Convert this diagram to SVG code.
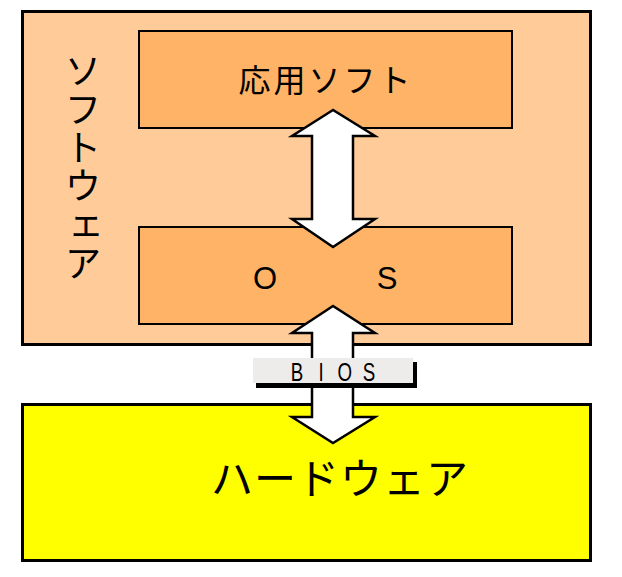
<svg xmlns="http://www.w3.org/2000/svg" width="622" height="577" viewBox="0 0 622 577">
<style>
.jp{font-family:"Noto Sans CJK JP","Noto Sans",sans-serif;fill:#000}
.lat{font-family:"Liberation Sans",Arial,sans-serif;fill:#000}
.inner{fill:#FFB366;stroke:#000;stroke-width:2}
.arrow{fill:#FFF;stroke:#000;stroke-width:2.5;stroke-linejoin:miter}
</style>
<rect width="622" height="577" fill="#FFF"/>
<g id="software">
<rect x="22.5" y="11.5" width="568" height="333" fill="#FFCC99" stroke="#000" stroke-width="3"/>
<text class="jp" font-size="36" text-anchor="middle" x="83 83 83 83 86 83" y="84 123 161 199 236 277">ソフトウェア</text>
</g>
<g id="app">
<rect class="inner" x="139" y="31" width="373" height="97"/>
<text class="jp" font-size="32" text-anchor="middle" letter-spacing="3" x="326" y="92">応用ソフト</text>
</g>
<g id="os">
<rect class="inner" x="139" y="227" width="373" height="97"/>
<text class="lat" font-size="31"><tspan x="265" y="289" text-anchor="middle">O</tspan><tspan x="387" y="289" text-anchor="middle">S</tspan></text>
</g>
<g id="hardware">
<rect x="22.5" y="404.5" width="568" height="156" fill="#FFFF00" stroke="#000" stroke-width="3"/>
<text class="jp" font-size="42" text-anchor="middle" letter-spacing="1" x="340" y="494">ハードウェア</text>
</g>
<g id="connectors">
<polygon class="arrow" points="333,110 292,136 312,136 312,219 292,219 333,247 375,219 353,219 353,136 375,136"/>
<polygon class="arrow" points="333,306 292,333 312,333 312,417 292,417 333,443 375,417 353,417 353,333 375,333"/>
</g>
<g id="bios">
<rect x="256" y="362" width="161" height="26" fill="#000"/>
<rect x="253" y="358" width="160" height="25" fill="#EEEBEB"/>
<text class="lat" font-size="26" text-anchor="middle" transform="scale(0.72 1)" x="412.5 446 479 512.5" y="381">BIOS</text>
</g>
</svg>
